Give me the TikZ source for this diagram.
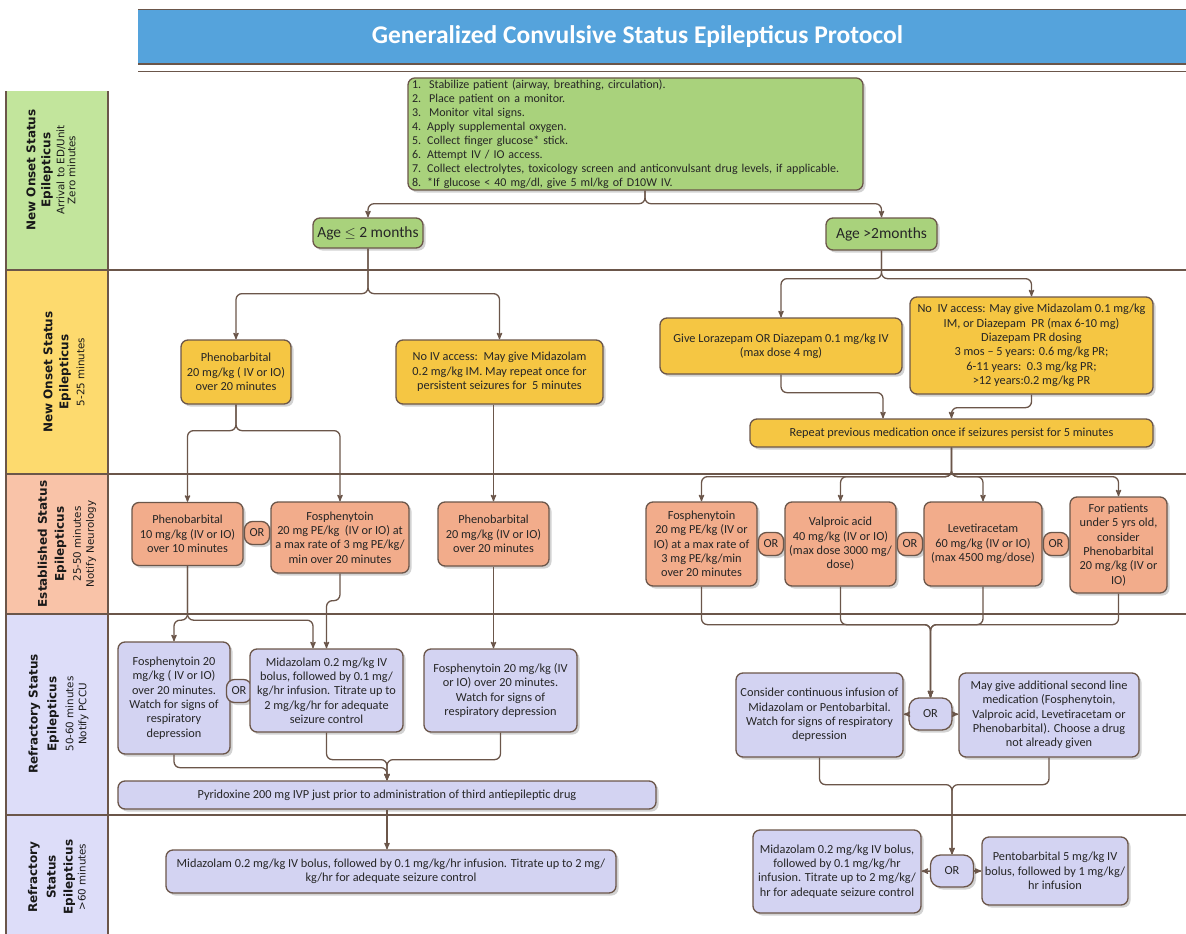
\documentclass[tikz,border=0pt]{standalone}
\usepackage{fontspec}
\setmainfont{Carlito}
\newfontfamily\bandfont{DejaVu Sans}
\usepackage{tikz}
\usetikzlibrary{arrows,shadows}

\definecolor{linebrown}{HTML}{6B564A}
\definecolor{titleblue}{HTML}{55A3DC}
\definecolor{greenband}{HTML}{C2E59C}
\definecolor{greenbox}{HTML}{A9D27C}
\definecolor{yellowband}{HTML}{FDDA6E}
\definecolor{yellowbox}{HTML}{F5C643}
\definecolor{salmonband}{HTML}{F9C3A8}
\definecolor{salmonbox}{HTML}{F2AC8B}
\definecolor{lilacband}{HTML}{DDDDF9}
\definecolor{lilacbox}{HTML}{D3D3F2}

\newcommand{\bl}[1]{{\bfseries\fontsize{12}{13.4}\selectfont #1}}

\begin{document}
\begin{tikzpicture}[x=1pt,y=-1pt]
\tikzstyle{every node}=[]
\tikzstyle{box}=[draw=linebrown, line width=1.3pt, rounded corners=7pt, align=center, inner sep=2pt, text=black!85, font=\fontsize{12.3}{14.3}\selectfont, drop shadow={shadow xshift=2.5pt, shadow yshift=-2.5pt, fill=black!25, opacity=.7}]
\tikzstyle{orbox}=[box, minimum width=25pt, minimum height=23pt, rounded corners=8pt]
\tikzstyle{bigor}=[box, minimum width=43pt, minimum height=32pt, rounded corners=10pt]
\tikzstyle{band}=[rotate=90, align=center, text=black!90, font=\bandfont\fontsize{10.3}{11}\selectfont]
\tikzstyle{conn}=[draw=linebrown, line width=1.3pt, rounded corners=6pt, ->, >=stealth']
\tikzset{sz/.style 2 args={minimum width=#1pt, minimum height=#2pt}}
\useasboundingbox (0,0) rectangle (1186,934);

% title bar
\fill[titleblue] (138,10) rectangle (1186,64);
\draw[linebrown, line width=1.5pt] (138,9.5) -- (1186,9.5) (138,64) -- (1186,64) (138,71.5) -- (1186,71.5);
\node[text=white, font=\bfseries\fontsize{25.5}{28}\selectfont] (title) at (637.5,37) {Generalized Convulsive Status Epilepticus Protocol};

% bands
\fill[greenband]  (6, 91) rectangle (108,270);
\fill[yellowband] (6,270) rectangle (108,474);
\fill[salmonband] (6,474) rectangle (108,614);
\fill[lilacband]  (6,614) rectangle (108,934);
\draw[linebrown, line width=1.5pt] (6,91) -- (6,934) (108,91) -- (108,934);
\foreach \y in {270,474,614,815}
  \draw[linebrown, line width=1.5pt] (6,\y) -- (1186,\y);

\node[band] (lab1) at (51,170) {\bl{New Onset Status}\\[4pt]\bl{Epilepticus}\\[3pt]Arrival to ED/Unit\\Zero minutes};
\node[band] (lab2) at (64,372) {\bl{New Onset Status}\\[5pt]\bl{Epilepticus}\\[5pt]5-25 minutes};
\node[band] (lab3) at (67,544) {\bl{Established Status}\\[6pt]\bl{Epilepticus}\\[6pt]25-50 minutes\\[2pt]Notify Neurology};
\node[band] (lab4) at (58.5,714) {\bl{Refractory Status}\\[6pt]\bl{Epilepticus}\\[6pt]50-60 minutes\\[2pt]Notify PCCU};
\node[band] (lab5) at (57,877) {\bl{Refractory}\\[6pt]\bl{Status}\\[6pt]\bl{Epilepticus}\\[2pt]>60 minutes};

% steps
\path
  (635.5,134) node [box, fill=greenbox, sz={455}{112}, text width=447pt, align=left, font=\fontsize{12}{13.9}\selectfont] (first)
      {1.\ \ Stabilize patient (airway, breathing, circulation).\\
       2.\ \ Place patient on a monitor.\\
       3.\ \ Monitor vital signs.\\
       4. Apply supplemental oxygen.\\
       5. Collect finger glucose* stick.\\
       6. Attempt IV / IO access.\\
       7. Collect electrolytes, toxicology screen and anticonvulsant drug levels, if applicable.\\
       8. *If glucose < 40 mg/dl, give 5 ml/kg of D10W IV.}
  (368,233)   node [box, fill=greenbox, sz={110}{30}, font=\fontsize{15.5}{17}\selectfont] (age1) {Age $\leq$ 2 months}
  (881.5,234) node [box, fill=greenbox, sz={111}{32}, font=\fontsize{15.5}{17}\selectfont] (age2) {Age >2months}

  (236,372)    node [box, fill=yellowbox, sz={110}{64}] (pheno1) {Phenobarbital\\20 mg/kg ( IV or IO)\\over 20 minutes}
  (499.5,372)  node [box, fill=yellowbox, sz={207}{64}] (noiv1)  {No IV access:\ \ May give Midazolam\\0.2 mg/kg IM. May repeat once for\\persistent seizures for\ \ 5 minutes}
  (781,346)    node [box, fill=yellowbox, sz={242}{56}] (loraz)  {Give Lorazepam OR Diazepam 0.1 mg/kg IV\\(max dose 4 mg)}
  (1031.5,345.5) node [box, fill=yellowbox, sz={243}{97}] (noiv2) {No\ \ IV access: May give Midazolam 0.1 mg/kg\\IM, or Diazepam\ \ PR (max 6-10 mg)\\Diazepam PR dosing\\3 mos -- 5 years: 0.6 mg/kg PR;\\6-11 years:\ \ 0.3 mg/kg PR;\\>12 years:0.2 mg/kg PR}
  (951.5,433)  node [box, fill=yellowbox, sz={403}{28}] (repeat) {Repeat previous medication once if seizures persist for 5 minutes}

  (187.5,534)  node [box, fill=salmonbox, sz={111}{63}] (pheno2) {Phenobarbital\\10 mg/kg (IV or IO)\\over 10 minutes}
  (257,533)    node [orbox, fill=salmonbox] (or1) {OR}
  (340,537.5)  node [box, fill=salmonbox, sz={138}{71}] (fos1)   {Fosphenytoin\\20 mg PE/kg\ \ (IV or IO) at\\a max rate of 3 mg PE/kg/\\min over 20 minutes}
  (493.5,534)  node [box, fill=salmonbox, sz={111}{64}] (pheno3) {Phenobarbital\\20 mg/kg (IV or IO)\\over 20 minutes}
  (701.5,544)  node [box, fill=salmonbox, sz={111}{84}] (fos2)   {Fosphenytoin\\20 mg PE/kg (IV or\\IO) at a max rate of\\3 mg PE/kg/min\\over 20 minutes}
  (771,544)    node [orbox, fill=salmonbox] (or2) {OR}
  (840.5,544)  node [box, fill=salmonbox, sz={111}{84}] (valp)   {Valproic acid\\40 mg/kg (IV or IO)\\(max dose 3000 mg/\\dose)}
  (910,544)    node [orbox, fill=salmonbox] (or3) {OR}
  (983,544)    node [box, fill=salmonbox, sz={118}{84}] (leve)   {Levetiracetam\\60 mg/kg (IV or IO)\\(max 4500 mg/dose)}
  (1056,544)   node [orbox, fill=salmonbox] (or4) {OR}
  (1118.5,545) node [box, fill=salmonbox, sz={97}{96}]  (under5) {For patients\\under 5 yrs old,\\consider\\Phenobarbital\\20 mg/kg (IV or\\IO)}

  (174,698)    node [box, fill=lilacbox, sz={112}{112}] (fos3)  {Fosphenytoin 20\\mg/kg ( IV or IO)\\over 20 minutes.\\Watch for signs of\\respiratory\\depression}
  (239,691)    node [orbox, fill=lilacbox] (or5) {OR}
  (326.5,690.5) node [box, fill=lilacbox, sz={153}{83}] (mida1) {Midazolam 0.2 mg/kg IV\\bolus, followed by 0.1 mg/\\kg/hr infusion. Titrate up to\\2 mg/kg/hr for adequate\\seizure control}
  (500.5,690.5) node [box, fill=lilacbox, sz={153}{83}] (fos4)  {Fosphenytoin 20 mg/kg (IV\\or IO) over 20 minutes.\\Watch for signs of\\respiratory depression}
  (387,795)    node [box, fill=lilacbox, sz={538}{28}] (pyri)   {Pyridoxine 200 mg IVP just prior to administration of third antiepileptic drug}
  (819.5,715)  node [box, fill=lilacbox, sz={167}{84}] (cont)   {Consider continuous infusion of\\Midazolam or Pentobarbital.\\Watch for signs of respiratory\\depression}
  (930.5,714)  node [bigor, fill=lilacbox] (or6) {OR}
  (1049,715)   node [box, fill=lilacbox, sz={180}{84}] (addl)   {May give additional second line\\medication (Fosphenytoin,\\Valproic acid, Levetiracetam or\\Phenobarbital). Choose a drug\\not already given}

  (391,871.5)  node [box, fill=lilacbox, sz={450}{43}] (mida2)  {Midazolam 0.2 mg/kg IV bolus, followed by 0.1 mg/kg/hr infusion. Titrate up to 2 mg/\\kg/hr for adequate seizure control}
  (837,871.5)  node [box, fill=lilacbox, sz={168}{83}] (mida3)  {Midazolam 0.2 mg/kg IV bolus,\\followed by 0.1 mg/kg/hr\\infusion. Titrate up to 2 mg/kg/\\hr for adequate seizure control}
  (952,871)    node [bigor, fill=lilacbox] (or8) {OR}
  (1055,871)   node [box, fill=lilacbox, sz={146}{68}] (pento)  {Pentobarbital 5 mg/kg IV\\bolus, followed by 1 mg/kg/\\hr infusion}
;

% arrows, new onset
\draw[conn] ([xshift=9.5pt]first.south) -- ++(0,13) -| (age1.north);
\draw[conn] ([xshift=9.5pt]first.south) -- ++(0,13) -| (age2.north);
\draw[conn] (age1.south) -- ++(0,45) -| (pheno1.north);
\draw[conn] (age1.south) -- ++(0,45) -| (noiv1.north);
\draw[conn] (age2.south) -- ++(0,28) -| (loraz.north);
\draw[conn] (age2.south) -- ++(0,28) -| (noiv2.north);
\draw[conn] (loraz.south) -- ++(0,18) -| ([xshift=-68.5pt]repeat.north);
\draw[conn] (noiv2.south) -- ++(0,13) -| (repeat.north);

% established
\draw[conn] (pheno1.south) -- ++(0,26) -| (pheno2.north);
\draw[conn] (pheno1.south) -- ++(0,26) -| (fos1.north);
\draw[conn] (noiv1.south -| pheno3.north) -- (pheno3.north);
\foreach \n in {fos2,valp,leve,under5}
  \draw[conn] (repeat.south) -- ++(0,29) -| (\n.north);

% refractory
\draw[conn] (pheno2.south) -- ++(0,54) -| (fos3.north);
\draw[conn] (pheno2.south) -- ++(0,54) -| ([xshift=-13.5pt]mida1.north);
\draw[conn] (fos1.south) -- ++(0,27) -| (mida1.north);
\draw[conn] (pheno3.south) -- (pheno3.south |- fos4.north);
\foreach \n in {fos2,valp,leve}
  \draw[conn] (\n.south) -- ++(0,38) -| (or6.north);
\draw[conn] (under5.south) -- ++(0,31) -| (or6.north);
\draw[conn] (or6) -- (cont);
\draw[conn] (or6) -- (addl);
\draw[conn] (fos3.south) -- ++(0,13) -| (pyri.north);
\draw[conn] (mida1.south) -- ++(0,27) -| (pyri.north);
\draw[conn] (fos4.south) -- ++(0,27) -| (pyri.north);

% > 60 minutes
\draw[conn] (pyri.south) -- (pyri.south |- mida2.north);
\draw[conn] (cont.south) -- ++(0,27) -| (or8.north);
\draw[conn] (addl.south) -- ++(0,27) -| (or8.north);
\draw[conn] (or8) -- (mida3);
\draw[conn] (or8) -- (pento);
\end{tikzpicture}
\end{document}
